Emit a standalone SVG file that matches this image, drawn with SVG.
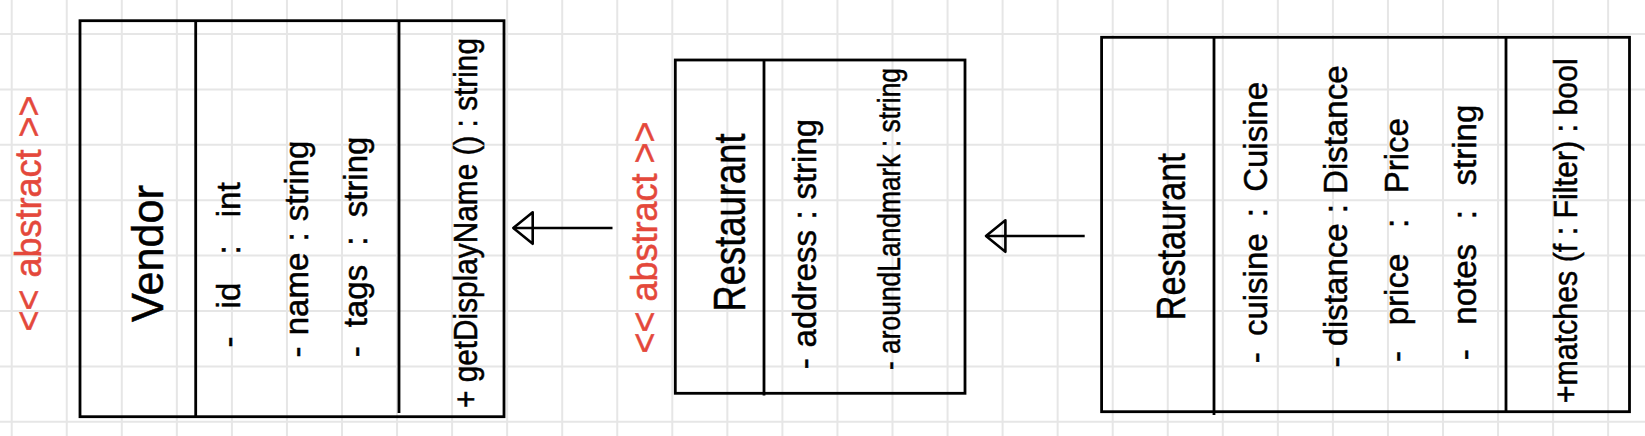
<svg xmlns="http://www.w3.org/2000/svg" width="1645" height="436" viewBox="0 0 1645 436">
<style>
.grid{stroke:#e6e6e6;stroke-width:2;fill:none}
.box{fill:none;stroke:#000;stroke-width:2.8;stroke-linejoin:miter}
.div{stroke:#000;stroke-width:2.8}
.edge{stroke:#000;stroke-width:2.6;fill:none}
text{font-family:"Liberation Sans","DejaVu Sans",sans-serif;fill:#000;stroke:#000;stroke-width:0.5;text-anchor:middle}
.title{font-size:44px}
.attr{font-size:33px}
.stereo{font-size:36px;fill:#e4483b;stroke:#e4483b}
</style>
<defs>
<marker id="tri" markerUnits="userSpaceOnUse" viewBox="-23 -19 26 38" refX="0" refY="0" markerWidth="26" markerHeight="38" orient="auto">
<path d="M0,0 L-19.4,-15.8 L-19.4,15.8 Z" fill="none" stroke="#000" stroke-width="2.6" stroke-linejoin="round"/>
</marker>
</defs>
<rect width="1645" height="436" fill="#fff"/>
<path class="grid" d="M11.7,0V436M66.75,0V436M121.8,0V436M176.85,0V436M231.9,0V436M286.95,0V436M342,0V436M397.05,0V436M452.1,0V436M507.15,0V436M562.2,0V436M617.25,0V436M672.3,0V436M727.35,0V436M782.4,0V436M837.45,0V436M892.5,0V436M947.55,0V436M1002.6,0V436M1057.65,0V436M1112.7,0V436M1167.75,0V436M1222.8,0V436M1277.85,0V436M1332.9,0V436M1387.95,0V436M1443,0V436M1498.05,0V436M1553.1,0V436M1608.15,0V436M0,34H1645M0,89.4H1645M0,144.8H1645M0,200.2H1645M0,255.6H1645M0,311H1645M0,366.4H1645M0,421.8H1645"/>

<g id="connectors">
<path class="edge" d="M612.5,228 H513.3" marker-end="url(#tri)"/>
<path class="edge" d="M1084.7,236 H986" marker-end="url(#tri)"/>
</g>

<g id="vendor">
<rect class="box" x="80" y="20.7" width="424" height="396"/>
<line class="div" x1="195.7" y1="20.7" x2="195.7" y2="416.7"/>
<line class="div" x1="399" y1="20.7" x2="399" y2="413"/>
<text class="stereo" style="word-spacing:2px" transform="translate(41,213.5) rotate(-90)">&lt;&lt; abstract &gt;&gt;</text>
<text class="title" transform="translate(163,253.5) rotate(-90)" textLength="137" lengthAdjust="spacingAndGlyphs">Vendor</text>
<text class="attr" style="word-spacing:19px" transform="translate(240,265) rotate(-90)">- id : int</text>
<text class="attr" style="word-spacing:2px" transform="translate(308,249) rotate(-90)">- name : string</text>
<text class="attr" style="word-spacing:10px" transform="translate(367,247) rotate(-90)">- tags : string</text>
<text class="attr" transform="translate(477,223) rotate(-90)" textLength="370" lengthAdjust="spacingAndGlyphs">+ getDisplayName () : string</text>
</g>

<g id="restaurant-abstract">
<rect class="box" x="675.3" y="60" width="289.7" height="333.3"/>
<line class="div" x1="764" y1="60" x2="764" y2="395.5"/>
<text class="stereo" transform="translate(657,237.5) rotate(-90)">&lt;&lt; abstract &gt;&gt;</text>
<text class="title" transform="translate(745,222.5) rotate(-90)" textLength="178" lengthAdjust="spacingAndGlyphs">Restaurant</text>
<text class="attr" style="word-spacing:1.5px" transform="translate(816,244) rotate(-90)">- address : string</text>
<text class="attr" style="font-size:31px" transform="translate(900,219) rotate(-90)" textLength="302" lengthAdjust="spacingAndGlyphs">- aroundLandmark : string</text>
</g>

<g id="restaurant">
<rect class="box" x="1101.6" y="37.3" width="527.9" height="374.4"/>
<line class="div" x1="1214" y1="37.3" x2="1214" y2="415"/>
<line class="div" x1="1506" y1="37.3" x2="1506" y2="411.7"/>
<text class="title" style="font-size:40px" transform="translate(1184.5,236.7) rotate(-90)" textLength="167" lengthAdjust="spacingAndGlyphs">Restaurant</text>
<text class="attr" style="word-spacing:7px" transform="translate(1267,222.5) rotate(-90)">- cuisine : Cuisine</text>
<text class="attr" style="word-spacing:1px" transform="translate(1347,216.5) rotate(-90)">- distance : Distance</text>
<text class="attr" style="word-spacing:16.5px" transform="translate(1408,240) rotate(-90)">- price : Price</text>
<text class="attr" style="word-spacing:15.5px" transform="translate(1476,232.5) rotate(-90)">- notes : string</text>
<text class="attr" transform="translate(1577,230.7) rotate(-90)" textLength="345" lengthAdjust="spacingAndGlyphs">+matches (f : Filter) : bool</text>
</g>
</svg>
